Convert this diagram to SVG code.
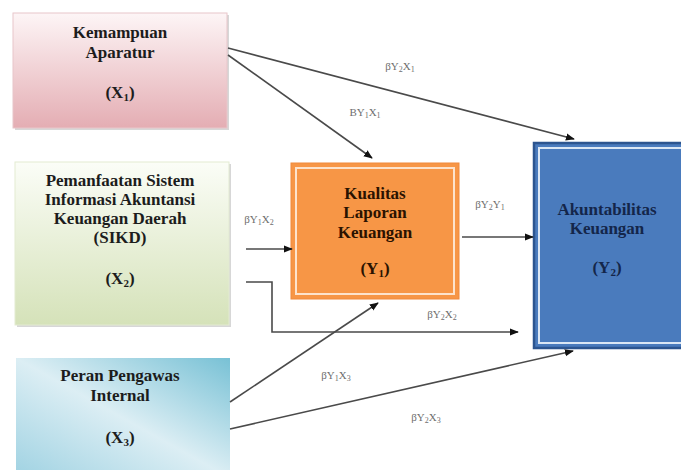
<svg xmlns="http://www.w3.org/2000/svg" width="681" height="470" viewBox="0 0 681 470">
<defs>
<linearGradient id="gPink" x1="0" y1="0" x2="0" y2="1">
<stop offset="0" stop-color="#fdf5f6"/><stop offset="1" stop-color="#e4adb3"/>
</linearGradient>
<linearGradient id="gGreen" x1="0" y1="0" x2="0" y2="1">
<stop offset="0" stop-color="#fbfdf7"/><stop offset="1" stop-color="#d5e2b9"/>
</linearGradient>
<linearGradient id="gBlue" x1="1" y1="0" x2="0" y2="1">
<stop offset="0" stop-color="#78c1d5"/><stop offset="0.5" stop-color="#dceef4"/><stop offset="1" stop-color="#9fd2e2"/>
</linearGradient>
<marker id="ah" viewBox="0 0 10 10" refX="9" refY="5" markerWidth="5" markerHeight="5" orient="auto" markerUnits="userSpaceOnUse">
<path d="M0,0 L10,5 L0,10 z" fill="#111"/>
</marker>
<marker id="ah2" viewBox="0 0 10 10" refX="9" refY="5" markerWidth="9" markerHeight="9" orient="auto" markerUnits="userSpaceOnUse">
<path d="M0,1 L10,5 L0,9 z" fill="#111"/>
</marker>
</defs>
<style>
.t{font-family:"Liberation Serif","Times New Roman",serif;font-weight:bold;font-size:17px;text-anchor:middle;fill:#1c1c1c}
.s{font-size:11px}
.lb{font-family:"Liberation Serif","Times New Roman",serif;font-size:11px;fill:#6e6e6e;text-anchor:middle}
.lb .sb{font-size:8px}
.c{fill:none;stroke:#4a4a4a;stroke-width:1.6;marker-end:url(#ah2)}
.sh{fill:#bdbdbd;opacity:0.6}
</style>
<rect width="681" height="470" fill="#ffffff"/>

<g id="X1">
<rect class="sh" x="15" y="15" width="214" height="115"/>
<rect x="13" y="13" width="214" height="115" fill="url(#gPink)" stroke="#e8c6ca" stroke-width="1"/>
<text class="t" x="120" y="38">Kemampuan</text>
<text class="t" x="120" y="58">Aparatur</text>
<text class="t" x="120" y="98">(X<tspan class="s" dy="3">1</tspan><tspan dy="-3">)</tspan></text>
</g>

<g id="X2">
<rect class="sh" x="17" y="164" width="214" height="163"/>
<rect x="15" y="162" width="214" height="163" fill="url(#gGreen)" stroke="#e3ebd2" stroke-width="1"/>
<text class="t" x="120" y="186">Pemanfaatan Sistem</text>
<text class="t" x="120" y="205">Informasi Akuntansi</text>
<text class="t" x="120" y="224">Keuangan Daerah</text>
<text class="t" x="120" y="243">(SIKD)</text>
<text class="t" x="120" y="284">(X<tspan class="s" dy="3">2</tspan><tspan dy="-3">)</tspan></text>
</g>

<g id="X3">
<rect x="16" y="358" width="214" height="120" fill="url(#gBlue)"/>
<text class="t" x="120" y="381">Peran Pengawas</text>
<text class="t" x="120" y="401">Internal</text>
<text class="t" x="120" y="443">(X<tspan class="s" dy="3">3</tspan><tspan dy="-3">)</tspan></text>
</g>

<g id="Y1">
<rect x="291" y="163" width="168" height="136" fill="#f79646" stroke="#f08a3c" stroke-width="1"/>
<rect x="296" y="168" width="158" height="126" fill="none" stroke="#fde3cc" stroke-width="2"/>
<text class="t" x="375" y="199" fill="#2a1200" style="fill:#2a1200">Kualitas</text>
<text class="t" x="375" y="218" style="fill:#2a1200">Laporan</text>
<text class="t" x="375" y="238" style="fill:#2a1200">Keuangan</text>
<text class="t" x="375" y="274" style="fill:#2a1200">(Y<tspan class="s" dy="3">1</tspan><tspan dy="-3">)</tspan></text>
</g>

<g id="Y2">
<rect x="534" y="143" width="160" height="205" fill="#4a7bbd" stroke="#2c5590" stroke-width="2.5"/>
<rect x="539" y="148" width="150" height="195" fill="none" stroke="#dbe7f5" stroke-width="2"/>
<text class="t" x="607" y="215" style="fill:#14264a">Akuntabilitas</text>
<text class="t" x="607" y="234" style="fill:#14264a">Keuangan</text>
<text class="t" x="607" y="273" style="fill:#14264a">(Y<tspan class="s" dy="3">2</tspan><tspan dy="-3">)</tspan></text>
</g>

<g id="connectors">
<line class="c" x1="228" y1="48" x2="574" y2="139"/>
<line class="c" x1="228" y1="55" x2="372" y2="158"/>
<line class="c" x1="246" y1="249" x2="292" y2="249"/>
<polyline class="c" points="246,282 272,282 272,332 518,332"/>
<line class="c" x1="462" y1="237" x2="533" y2="237"/>
<line class="c" x1="230" y1="402" x2="378" y2="303"/>
<line class="c" x1="230" y1="429" x2="573" y2="351"/>
</g>

<g id="labels">
<text class="lb" x="400" y="70">βY<tspan class="sb" dy="2">2</tspan><tspan dy="-2">X</tspan><tspan class="sb" dy="2">1</tspan></text>
<text class="lb" x="365" y="116">BY<tspan class="sb" dy="2">1</tspan><tspan dy="-2">X</tspan><tspan class="sb" dy="2">1</tspan></text>
<text class="lb" x="259" y="223">βY<tspan class="sb" dy="2">1</tspan><tspan dy="-2">X</tspan><tspan class="sb" dy="2">2</tspan></text>
<text class="lb" x="490" y="208">βY<tspan class="sb" dy="2">2</tspan><tspan dy="-2">Y</tspan><tspan class="sb" dy="2">1</tspan></text>
<text class="lb" x="442" y="318">βY<tspan class="sb" dy="2">2</tspan><tspan dy="-2">X</tspan><tspan class="sb" dy="2">2</tspan></text>
<text class="lb" x="336" y="379">βY<tspan class="sb" dy="2">1</tspan><tspan dy="-2">X</tspan><tspan class="sb" dy="2">3</tspan></text>
<text class="lb" x="426" y="421">βY<tspan class="sb" dy="2">2</tspan><tspan dy="-2">X</tspan><tspan class="sb" dy="2">3</tspan></text>
</g>
</svg>
